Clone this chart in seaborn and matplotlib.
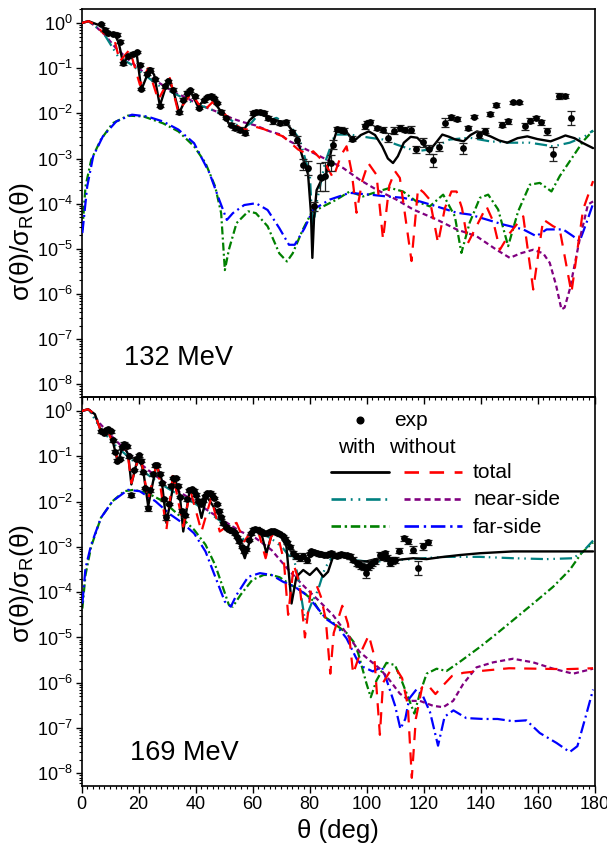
import numpy as np
import matplotlib
matplotlib.use("Agg")
import matplotlib.pyplot as plt
import seaborn as sns
from matplotlib.ticker import LogLocator, LogFormatterSciNotation, MultipleLocator, NullFormatter

# ---------------- data: 132 MeV (log10 of sigma/sigma_R) ----------------
a_tw_th = [0, 2.5, 5, 7.5, 9.5, 11.5, 13, 14.6, 17, 19.3, 21, 24, 25.5, 27.5, 30.4, 32, 34.3, 38, 40.9, 44.4,
           46.5, 48.5, 52, 56.7, 59, 62, 67.2, 71.9, 75.4, 77.8, 79.5, 80.5, 81.0, 81.6, 82.5, 84, 85.5, 87, 88.5, 89.7,
           91.5, 93.5, 95.5, 98, 100.8, 103, 105.5, 107.5, 109.3, 111, 113.1, 115.5, 117.8, 120, 121.9, 124, 126.6, 129,
           131.2, 134.1, 136.5, 138.8, 141, 143.5, 146.5, 149.4, 153, 156.4, 160, 164.6, 167.5, 169.8, 173, 176, 179.5]
a_tw_lg = [0, 0.04, -0.02, -0.08, -0.24, -0.24, -0.42, -0.89, -0.70, -0.65, -1.48, -1.00, -1.15, -1.83, -1.25, -1.45,
           -1.99, -1.48, -1.85, -1.62, -1.75, -1.92, -2.25, -2.40, -2.15, -1.99, -2.14, -2.21, -2.51, -3.02, -3.35, -4.2,
           -5.2, -4.3, -3.7, -3.5, -3.45, -3.0, -2.6, -2.36, -2.35, -2.45, -2.62, -2.48, -2.40, -2.48, -2.73, -3.0, -3.10,
           -2.95, -2.65, -2.52, -2.54, -2.68, -2.84, -2.68, -2.47, -2.52, -2.58, -2.62, -2.48, -2.40, -2.45, -2.51, -2.60,
           -2.65, -2.55, -2.51, -2.57, -2.62, -2.55, -2.49, -2.55, -2.66, -2.77]

a_tn_th = [0, 2.5, 5, 7.6, 10, 11.5, 13.4, 16.9, 20.5, 23.4, 26.9, 31.0, 33.9, 38.6, 42.7, 46, 50, 54, 56.5, 58.5,
           61.2, 64, 66.1, 70.7, 76, 79.5, 81.3, 85.4, 88.3, 91.2, 93, 94.8, 96.5, 98.5, 100.6, 103.5, 105.8, 108, 110,
           111.7, 115.8, 118.1, 120, 122.2, 125.1, 127.5, 129.8, 131.6, 133.5, 135.6, 139.8, 142.1, 144.5, 146.8, 150.3,
           155, 158.5, 162, 165.5, 167.8, 171.9, 176, 179.5]
a_tn_lg = [0, 0.04, -0.05, -0.22, -0.30, -0.35, -0.85, -0.59, -1.37, -1.00, -1.70, -1.22, -1.96, -1.55, -1.96, -1.75,
           -2.0, -2.25, -2.35, -2.36, -2.30, -2.35, -2.40, -2.51, -2.80, -2.91, -2.84, -3.10, -3.43, -2.91, -2.73, -3.3,
           -4.20, -3.5, -3.10, -3.36, -4.79, -3.6, -3.28, -3.43, -5.27, -3.65, -3.75, -3.91, -4.87, -4.1, -3.73, -3.73,
           -4.1, -4.87, -4.35, -4.06, -4.4, -5.02, -4.65, -4.28, -5.9, -4.35, -4.5, -4.57, -5.97, -4.13, -3.5]

a_nw_th = [0, 2.5, 5, 8, 12.9, 17, 22.8, 27, 32.2, 39.2, 45, 50.9, 53.5, 56.1, 59.6, 62.6, 66.1, 68.4, 73.1, 76.6,
           78.9, 80.1, 81.1, 82.5, 85.4, 88.9, 94.1, 101.2, 105.8, 110.5, 117.5, 122.2, 129.2, 136.2, 143.3, 150.3,
           157.3, 165.5, 171.3, 176.6, 179.5]
a_nw_lg = [0, 0.04, -0.08, -0.25, -0.75, -0.9, -1.18, -1.38, -1.55, -1.77, -1.9, -2.07, -2.2, -2.35, -2.21, -1.99,
           -2.15, -2.10, -2.27, -2.58, -3.10, -3.32, -4.57, -3.98, -3.10, -2.47, -2.47, -2.54, -2.58, -2.69, -2.84,
           -2.80, -2.58, -2.54, -2.62, -2.65, -2.65, -2.73, -2.65, -2.51, -2.38]

a_nn_th = [0, 2.5, 5, 8, 12, 16.3, 19, 23, 28.6, 33, 36.7, 40, 44.9, 49, 53.1, 57, 61.2, 66.1, 69.4, 73.1, 78.9,
           85.9, 91.8, 97.6, 103.5, 110.5, 116.4, 124.6, 131.6, 138.6, 145.6, 150.3, 154, 158.5, 162, 164.3, 166.5,
           168.4, 169.5, 171.3, 174.8, 177.7, 179.5]
a_nn_lg = [0, 0.04, -0.08, -0.25, -0.55, -0.80, -0.95, -1.15, -1.38, -1.55, -1.65, -1.77, -1.9, -2.0, -2.12, -2.2,
           -2.27, -2.40, -2.46, -2.62, -2.80, -3.02, -3.21, -3.47, -3.69, -3.91, -4.13, -4.35, -4.57, -4.72, -5.02,
           -5.2, -5.1, -5.02, -5.1, -5.31, -5.8, -6.34, -6.3, -5.9, -4.79, -4.02, -3.95]

a_fw_th = [0.3, 1.4, 3.4, 6.8, 10.9, 16.3, 21.8, 28.6, 34, 39.5, 43.5, 46.9, 49, 50.3, 51.7, 54.4, 58.5, 61.2, 65.3,
           69.4, 72.1, 74.1, 77.6, 80.7, 84.8, 89.5, 94.1, 98.8, 103, 108.2, 112.8, 117.5, 122.2, 126.9, 131, 133.3,
           136.2, 139.8, 142.7, 146.2, 149.7, 153.2, 157.3, 160.8, 164.9, 167.8, 172.5, 176, 179.5]
a_fw_lg = [-4.58, -3.62, -3.03, -2.58, -2.22, -2.05, -2.07, -2.22, -2.40, -2.73, -3.1, -3.62, -4.21, -5.47, -5.02,
           -4.43, -4.17, -4.21, -4.5, -5.1, -5.28, -5.1, -4.58, -4.20, -4.06, -3.91, -3.73, -3.84, -3.75, -3.65, -3.73,
           -3.95, -4.06, -3.80, -4.28, -5.09, -4.42, -3.87, -3.80, -4.13, -4.94, -4.17, -3.58, -3.54, -3.73, -3.39,
           -2.95, -2.62, -2.38]

a_fn_th = [0.3, 2, 4.1, 7.5, 12.2, 17.7, 23.1, 28.6, 34, 39.5, 44.9, 48.3, 51, 53.1, 57.1, 61.2, 65.3, 69.4, 72.8,
           74.8, 78.2, 81.3, 87.1, 94.1, 101.2, 107.1, 112.8, 118.7, 124.6, 131.6, 136.2, 142.1, 147.9, 155, 159.6,
           163.2, 169, 172.5, 174.8, 177.2, 179.5]
a_fn_lg = [-4.65, -3.62, -2.95, -2.51, -2.18, -2.03, -2.07, -2.18, -2.36, -2.66, -3.32, -3.91, -4.36, -4.21, -4.03,
           -3.99, -4.14, -4.54, -4.91, -4.91, -4.55, -4.13, -3.91, -3.76, -3.80, -3.84, -3.87, -3.95, -4.06, -4.20,
           -4.24, -4.35, -4.46, -4.57, -4.72, -4.57, -4.57, -4.72, -4.83, -4.42, -4.0]

a_exp_th = [7.0, 8.2, 9.3, 10.9, 12.3, 13.4, 14.6, 16.4, 18.1, 19.5,
            20.5, 21.0, 23.0, 24.2, 25.7, 27.5, 29.2, 30.4, 32.1, 34.1,
            35.7, 37.1, 38.2, 39.8, 41.3, 42.9, 44.1, 45.3, 46.4, 47.6,
            49.1, 50.6, 52.3, 53.8, 55.5, 57.3, 60.2, 61.4, 62.6, 64.0,
            65.5, 67.2, 69.6, 71.9, 74.0, 75.6, 77.8, 79.5, 81.6, 83.6,
            85.4, 87.5, 88.3, 89.5, 91.0, 92.0, 95.0, 99.4, 100.2, 101.2,
            103.7, 105.8, 107.6, 109.6, 111.7, 113.4, 115.5, 117.5, 119.9, 122.0,
            123.4, 125.5, 127.5, 129.6, 131.6, 133.7, 135.6, 137.6, 139.5, 141.5,
            143.5, 145.6, 147.6, 149.5, 151.4, 153.5, 155.5, 157.5, 159.4, 161.4,
            163.4, 165.5, 167.5, 169.6, 171.6]
a_exp_lg = [-0.02, -0.15, -0.22, -0.24, -0.26, -0.41, -0.89, -0.74, -0.68, -0.64,
            -0.92, -1.46, -1.12, -1.03, -1.25, -1.83, -1.40, -1.29, -1.48, -1.98,
            -1.70, -1.54, -1.49, -1.62, -1.88, -1.71, -1.64, -1.61, -1.66, -1.77,
            -1.96, -2.10, -2.25, -2.32, -2.36, -2.43, -1.99, -1.96, -1.96, -1.99,
            -2.10, -2.18, -2.21, -2.20, -2.42, -2.58, -3.14, -3.21, -4.06, -3.41,
            -3.39, -3.10, -2.69, -2.35, -2.36, -2.38, -2.56, -2.29, -2.21, -2.20,
            -2.32, -2.36, -2.54, -2.38, -2.32, -2.36, -2.36, -2.80, -2.64, -2.80,
            -3.04, -2.74, -2.21, -2.09, -2.12, -2.77, -2.32, -2.07, -2.47, -2.38,
            -2.01, -1.82, -2.25, -2.18, -1.76, -1.76, -2.29, -2.16, -2.10, -2.20,
            -2.40, -2.90, -1.62, -1.62, -2.10]
a_exp_err = [0.03, 0.03, 0.03, 0.03, 0.03, 0.03, 0.03, 0.03, 0.03, 0.03,
             0.03, 0.03, 0.03, 0.03, 0.03, 0.03, 0.03, 0.03, 0.03, 0.03,
             0.03, 0.03, 0.03, 0.03, 0.03, 0.03, 0.03, 0.03, 0.03, 0.03,
             0.03, 0.03, 0.03, 0.04, 0.05, 0.06, 0.04, 0.04, 0.04, 0.04,
             0.05, 0.05, 0.05, 0.05, 0.06, 0.08, 0.12, 0.15, 0.10, 0.30,
             0.32, 0.18, 0.10, 0.05, 0.05, 0.05, 0.06, 0.05, 0.05, 0.05,
             0.05, 0.06, 0.10, 0.07, 0.07, 0.06, 0.07, 0.08, 0.10, 0.10,
             0.14, 0.10, 0.10, 0.05, 0.04, 0.12, 0.05, 0.04, 0.08, 0.05,
             0.04, 0.04, 0.06, 0.05, 0.03, 0.03, 0.07, 0.05, 0.05, 0.05,
             0.08, 0.15, 0.07, 0.04, 0.15]

# ---------------- data: 169 MeV ----------------
b_tw_th = [0, 2.3, 4.7, 7.0, 9.3, 11.1, 12.8, 14.6, 16.4, 17.5, 19.9, 21.6, 23.4, 26.3, 28.1, 29.8, 32.7, 34.5, 35.7,
           38.0, 40.4, 42.1, 43.9, 46.2, 49.7, 52.0, 54.4, 57.3, 60.2, 62.6, 64.9, 67.2, 69.6, 71.9, 73.7, 75.4, 77.8,
           80.1, 82.5, 84.8, 86.5, 88.3, 90.6, 93.0, 96.5, 100.0, 104.7, 110.5, 116.4, 121.1, 125.7, 132.7, 139.8,
           151.4, 163.2, 179.5]
b_tw_lg = [0, 0.04, -0.07, -0.48, -0.44, -0.70, -1.14, -0.74, -0.96, -1.62, -1.00, -1.29, -2.10, -1.18, -1.51, -2.47,
           -1.48, -1.85, -2.66, -1.73, -1.88, -2.36, -1.88, -2.10, -2.44, -2.58, -2.73, -3.25, -2.62, -2.58, -3.14,
           -2.62, -2.73, -2.99, -4.25, -3.66, -3.51, -3.62, -3.47, -3.66, -3.55, -3.21, -3.14, -3.25, -3.32, -3.32,
           -3.25, -3.29, -3.25, -3.27, -3.23, -3.18, -3.14, -3.10, -3.10, -3.10]

b_tn_th = [0, 2.3, 4.7, 7.0, 9.3, 11.1, 12.8, 15.8, 17.5, 20.5, 23.4, 26.5, 29.8, 32.1, 35.7, 38.2, 42.1, 45.5, 48.5,
           51.0, 54.4, 57.1, 59.9, 62.0, 64.6, 66.7, 69.4, 71.0, 72.5, 74.5, 76.5, 78.4, 80.5, 82.5, 84.0, 85.7, 87.3,
           88.5, 91.5, 93.5, 95.3, 97.5, 100.8, 102.7, 104.7, 105.8, 108.5, 110.5, 112.5, 114.5, 115.9, 117.3, 119.5,
           121.5, 124.2, 127.0, 130.0, 134.0, 140.0, 150.0, 160.0, 170.0, 179.5]
b_tn_lg = [0, 0.04, -0.07, -0.48, -0.45, -0.72, -1.10, -0.74, -1.59, -0.92, -1.95, -1.12, -2.62, -1.40, -2.55, -1.75,
           -2.66, -1.92, -2.66, -2.55, -2.47, -2.88, -2.62, -2.65, -3.25, -2.73, -2.88, -3.3, -4.5, -3.4, -3.8, -5.0,
           -3.95, -3.85, -4.1, -4.6, -5.8, -4.9, -4.3, -4.7, -5.8, -5.4, -4.95, -5.4, -7.15, -6.0, -5.72, -5.7, -5.9,
           -6.5, -8.1, -6.8, -6.1, -6.05, -6.25, -6.05, -5.85, -5.78, -5.74, -5.68, -5.69, -5.70, -5.68]

b_nw_th = [0, 2.5, 6.8, 12.2, 17.7, 23.1, 28.6, 34, 39.5, 44.9, 49.7, 53.1, 55.8, 59.9, 62.6, 65.3, 68, 70.7, 72.8,
           74.2, 76, 78.4, 80.7, 83, 85.4, 87.7, 90.6, 95.3, 100, 104.7, 110.5, 116.4, 122.2, 128.1, 139.8, 151.4,
           163.2, 172.5, 176, 179.5]
b_nw_lg = [0, 0.04, -0.40, -0.78, -1.08, -1.40, -1.64, -1.85, -2.03, -2.25, -2.47, -2.73, -2.88, -2.66, -2.73, -2.77,
           -2.88, -3.03, -3.2, -3.18, -3.66, -4.62, -4.25, -3.95, -3.47, -3.25, -3.18, -3.29, -3.32, -3.32, -3.29,
           -3.27, -3.24, -3.22, -3.22, -3.25, -3.27, -3.25, -3.10, -2.86]

b_nn_th = [0, 2.7, 6.8, 12.2, 17.7, 23.1, 28.6, 34, 39.5, 44.9, 50.3, 55.8, 61.2, 66.7, 72.1, 77.6, 83.3, 88.3, 93,
           97.6, 101.2, 104.7, 108.2, 111.7, 115.2, 118.7, 123.4, 126.9, 130.4, 133.9, 138.6, 144.4, 151.4, 158.5,
           165.5, 172.5, 179.5]
b_nn_lg = [0, 0.04, -0.30, -0.66, -1.0, -1.29, -1.55, -1.77, -1.99, -2.22, -2.44, -2.66, -2.81, -3.07, -3.47, -3.84,
           -4.19, -4.51, -4.91, -5.32, -5.51, -5.69, -5.95, -6.24, -6.40, -6.40, -6.51, -6.54, -6.40, -6.03, -5.66,
           -5.55, -5.47, -5.55, -5.69, -5.80, -5.69]

b_fw_th = [0.3, 1.4, 3.4, 6.8, 10.9, 15, 18.4, 23.1, 28.6, 34, 39.5, 43.5, 46.9, 49.7, 51.7, 53.1, 55.8, 59.9, 63.9,
           66.7, 69.5, 73.5, 77.6, 81.3, 84.4, 87.1, 93, 95.5, 97.1, 100, 101.5, 103.5, 107, 110, 112.3, 114.6, 116.8,
           118.7, 121.1, 124.6, 128.1, 132.7, 139.8, 145.6, 151.4, 158.5, 165.5, 171.3, 175.4, 179.5]
b_fw_lg = [-4.36, -3.62, -2.99, -2.36, -1.99, -1.77, -1.74, -1.81, -1.99, -2.29, -2.62, -2.95, -3.40, -3.91, -4.28,
           -4.32, -4.06, -3.73, -3.62, -3.62, -3.67, -3.84, -3.99, -4.19, -4.51, -4.62, -4.90, -5.1, -5.35, -6.02,
           -6.32, -5.95, -5.56, -5.61, -5.95, -6.32, -6.68, -6.24, -5.80, -5.69, -5.74, -5.54, -5.21, -4.92, -4.62,
           -4.25, -3.88, -3.51, -3.14, -2.9]

b_fn_th = [0.3, 1.4, 3.4, 6.8, 10.9, 16.3, 20.4, 25.9, 31.3, 35.4, 39.5, 43.5, 47.6, 50.3, 52.4, 54.4, 58.5, 62.6,
           66.7, 70.7, 74.8, 78.9, 81.5, 86, 89.8, 93, 96.5, 98.8, 102.2, 105.4, 107, 110, 111.9, 113.6, 115, 117.5,
           119.7, 122.3, 125.1, 127.4, 130.5, 135, 140.9, 146, 151.4, 156.1, 160.8, 166.7, 171.3, 174, 177.2, 179.5]
b_fn_lg = [-4.25, -3.47, -2.95, -2.36, -1.99, -1.74, -1.77, -1.99, -2.29, -2.47, -2.70, -3.10, -3.77, -4.21, -4.32,
           -4.06, -3.66, -3.58, -3.62, -3.77, -3.88, -4.06, -4.25, -4.60, -4.76, -5.02, -5.47, -5.65, -5.75, -5.65,
           -5.93, -6.5, -7.02, -6.8, -6.35, -6.15, -6.28, -6.65, -7.39, -6.75, -6.61, -6.78, -6.80, -6.80, -6.85,
           -6.83, -7.11, -7.33, -7.53, -7.40, -6.68, -6.15]

b_exp_th = [7.0, 7.8, 8.6, 9.4, 10.2, 11.0, 11.8, 12.6, 13.4, 14.2,
            15.0, 15.8, 16.6, 17.5, 18.4, 19.2, 20.0, 20.8, 21.6, 22.4,
            23.4, 24.2, 25.0, 25.8, 26.6, 27.4, 28.2, 29.0, 29.8, 30.6,
            31.4, 32.2, 33.0, 33.8, 34.6, 35.4, 36.2, 37.0, 37.8, 38.6,
            39.4, 40.2, 41.0, 41.8, 42.6, 43.4, 44.2, 45.0, 45.8, 46.6,
            47.4, 48.2, 49.0, 49.8, 50.6, 51.4, 52.2, 53.0, 53.8, 54.6,
            55.4, 56.2, 57.0, 57.8, 58.6, 59.4, 60.2, 61.0, 61.8, 62.6,
            63.4, 64.2, 65.0, 65.8, 66.6, 67.4, 68.2, 69.0, 69.8, 70.6,
            71.4, 72.2, 73.0, 74.2, 75.4, 76.6, 77.8, 79.0, 80.0, 80.7,
            81.6, 82.5, 83.4, 84.2, 85.1, 86.0, 86.9, 87.7, 88.6, 89.5,
            90.4, 91.2, 92.1, 93.0, 94.1, 95.3, 96.5, 97.4, 98.2, 99.0,
            99.8, 100.5, 101.2, 102.1, 103.0, 104.7, 105.5, 106.4, 107.3, 108.2,
            109.1, 110.0, 111.5, 113.1, 114.6, 116.4, 118.1, 119.9, 121.6]
b_exp_lg = [-0.45, -0.48, -0.42, -0.40, -0.45, -0.65, -0.90, -1.10, -1.05, -0.80,
            -0.72, -0.78, -1.00, -1.85, -1.30, -1.05, -0.98, -1.10, -1.35, -1.70,
            -2.15, -1.75, -1.40, -1.20, -1.20, -1.38, -1.60, -1.95, -2.35, -2.05,
            -1.65, -1.48, -1.48, -1.65, -1.90, -2.20, -2.30, -1.95, -1.75, -1.72,
            -1.76, -1.85, -1.98, -2.05, -1.98, -1.88, -1.82, -1.80, -1.85, -1.92,
            -2.05, -2.20, -2.35, -2.48, -2.55, -2.60, -2.62, -2.66, -2.70, -2.78,
            -2.88, -3.00, -3.10, -3.05, -2.85, -2.70, -2.62, -2.60, -2.62, -2.64,
            -2.68, -2.70, -2.70, -2.68, -2.66, -2.66, -2.68, -2.70, -2.72, -2.76,
            -2.82, -2.90, -3.00, -3.14, -3.20, -3.25, -3.20, -3.29, -3.15, -3.10,
            -3.12, -3.14, -3.16, -3.15, -3.17, -3.18, -3.16, -3.14, -3.18, -3.20,
            -3.18, -3.16, -3.17, -3.19, -3.21, -3.28, -3.36, -3.38, -3.42, -3.45,
            -3.58, -3.44, -3.40, -3.36, -3.32, -3.18, -3.22, -3.14, -3.25, -3.36,
            -3.30, -3.29, -3.08, -2.81, -2.88, -3.06, -3.47, -2.99, -2.90]
b_exp_err = [0.03, 0.03, 0.03, 0.03, 0.03, 0.03, 0.03, 0.03, 0.03, 0.03,
             0.03, 0.03, 0.03, 0.05, 0.03, 0.03, 0.03, 0.03, 0.03, 0.03,
             0.06, 0.03, 0.03, 0.03, 0.03, 0.03, 0.03, 0.03, 0.05, 0.03,
             0.03, 0.03, 0.03, 0.03, 0.03, 0.03, 0.03, 0.03, 0.03, 0.03,
             0.03, 0.03, 0.03, 0.03, 0.03, 0.03, 0.03, 0.03, 0.03, 0.03,
             0.03, 0.03, 0.03, 0.03, 0.03, 0.03, 0.03, 0.03, 0.03, 0.03,
             0.03, 0.03, 0.03, 0.03, 0.03, 0.03, 0.03, 0.03, 0.03, 0.03,
             0.03, 0.03, 0.03, 0.03, 0.03, 0.03, 0.03, 0.03, 0.03, 0.03,
             0.03, 0.03, 0.04, 0.06, 0.06, 0.06, 0.06, 0.06, 0.04, 0.04,
             0.04, 0.04, 0.04, 0.04, 0.04, 0.04, 0.04, 0.04, 0.04, 0.04,
             0.04, 0.04, 0.04, 0.04, 0.05, 0.06, 0.06, 0.06, 0.07, 0.07,
             0.10, 0.07, 0.06, 0.06, 0.06, 0.06, 0.06, 0.06, 0.07, 0.07,
             0.07, 0.07, 0.06, 0.05, 0.06, 0.07, 0.15, 0.08, 0.06]

energy_labels = ["132 MeV", "169 MeV"]
legend_labels = ["total", "near-side", "far-side"]

# ---------------- style ----------------
sns.set_theme(style="ticks")
plt.rcParams['font.family'] = ['Liberation Sans', 'DejaVu Sans']
plt.rcParams['mathtext.fontset'] = 'custom'
plt.rcParams['mathtext.rm'] = 'Liberation Sans'
plt.rcParams['mathtext.it'] = 'Liberation Sans:italic'
plt.rcParams['mathtext.bf'] = 'Liberation Sans:bold'
plt.rcParams['mathtext.default'] = 'regular'
for k in ('text.color', 'axes.labelcolor', 'xtick.color', 'ytick.color', 'axes.edgecolor'):
    plt.rcParams[k] = 'black'

LW = 1.6
ST = {
    'tw': dict(color='black', ls='-', lw=1.7, z=6),
    'tn': dict(color='#ff0000', ls=(0, (5.5, 4.0)), lw=LW, z=7),
    'nw': dict(color='#008080', ls=(0, (5.5, 1.8, 0.7, 2.2, 0.7, 2.2)), lw=LW, z=5),
    'nn': dict(color='#800080', ls=(0, (2.3, 1.5)), lw=LW, z=4),
    'fw': dict(color='#008000', ls=(0, (3.6, 1.4, 0.9, 1.4)), lw=LW, z=2),
    'fn': dict(color='#0000ff', ls=(0, (5.5, 1.8, 0.9, 1.8)), lw=LW, z=3),
}

YMIN, YMAX = 10 ** -8.28, 10 ** 0.31

fig = plt.figure(figsize=(6.07, 8.5), dpi=100)
L, W = 81.5 / 607, 513 / 607
ax2 = fig.add_axes([L, 1 - 786 / 850, W, 389 / 850])
ax1 = fig.add_axes([L, 1 - 397 / 850, W, 388 / 850])
ax2.set_facecolor('none')
ax1.set_facecolor('none')


def curve(ax, th, lg, key):
    s = ST[key]
    sns.lineplot(x=np.array(th, float), y=10 ** np.array(lg, float), ax=ax, color=s['color'],
                 linestyle=s['ls'], lw=s['lw'], estimator=None, sort=False, zorder=s['z'])


def exp(ax, th, lg, err):
    th = np.array(th, float)
    y = 10 ** np.array(lg, float)
    e = np.array(err, float)
    lo = y * (1 - 10 ** -e)
    hi = y * (10 ** e - 1)
    ax.errorbar(th, y, yerr=[lo, hi], fmt='none', ecolor='#222222', elinewidth=0.9,
                capsize=2.6, capthick=0.9, zorder=8)
    sns.scatterplot(x=th, y=y, ax=ax, color='black', s=24, linewidth=0, zorder=9)


for ax in (ax1, ax2):
    ax.set_yscale('log')
    ax.set_xlim(0, 180)
    ax.set_ylim(YMIN, YMAX)

curve(ax1, a_fw_th, a_fw_lg, 'fw')
curve(ax1, a_fn_th, a_fn_lg, 'fn')
curve(ax1, a_nn_th, a_nn_lg, 'nn')
curve(ax1, a_nw_th, a_nw_lg, 'nw')
curve(ax1, a_tw_th, a_tw_lg, 'tw')
curve(ax1, a_tn_th, a_tn_lg, 'tn')
exp(ax1, a_exp_th, a_exp_lg, a_exp_err)

curve(ax2, b_fw_th, b_fw_lg, 'fw')
curve(ax2, b_fn_th, b_fn_lg, 'fn')
curve(ax2, b_nn_th, b_nn_lg, 'nn')
curve(ax2, b_nw_th, b_nw_lg, 'nw')
curve(ax2, b_tw_th, b_tw_lg, 'tw')
curve(ax2, b_tn_th, b_tn_lg, 'tn')
exp(ax2, b_exp_th, b_exp_lg, b_exp_err)

ylab = 'σ(θ)/σ$_\\mathregular{R}$(θ)'
for ax, ly in ((ax1, 0.40), (ax2, 0.52)):
    ax.set_xlim(0, 180)
    ax.set_ylim(YMIN, YMAX)
    ax.yaxis.set_major_locator(LogLocator(base=10, numticks=30))
    ax.yaxis.set_minor_locator(LogLocator(base=10, subs=np.arange(2, 10), numticks=30))
    ax.yaxis.set_major_formatter(LogFormatterSciNotation())
    ax.yaxis.set_minor_formatter(NullFormatter())
    ax.xaxis.set_major_locator(MultipleLocator(20))
    ax.xaxis.set_minor_locator(MultipleLocator(2))
    ax.tick_params(axis='y', which='major', direction='out', length=4, width=1.0,
                   labelsize=13, pad=2, left=True, right=False)
    ax.tick_params(axis='y', which='minor', direction='out', length=2.2, width=0.8, left=True, right=False)
    for sp in ax.spines.values():
        sp.set_linewidth(1.2)
        sp.set_color('black')
    ax.set_ylabel(ylab, fontsize=19)
    ax.yaxis.set_label_coords(-0.088, ly)
    ax.grid(False)

# ticks on the shared boundary point down; ticks on the bottom axis point outward
ax1.tick_params(axis='x', which='major', direction='out', length=5, width=1.0, bottom=True, top=False,
                labelbottom=False)
ax1.tick_params(axis='x', which='minor', direction='out', length=2.5, width=0.8, bottom=True, top=False)
ax2.tick_params(axis='x', which='major', direction='out', length=5, width=1.0, top=False, bottom=True,
                labelsize=13, pad=2)
ax2.tick_params(axis='x', which='minor', direction='out', length=2.5, width=0.8, top=False, bottom=True)
ax2.set_xlabel('θ (deg)', fontsize=18.5)
ax2.xaxis.set_label_coords(0.5, -0.085)

ax1.text(0.0825, 0.0825, energy_labels[0], transform=ax1.transAxes, fontsize=19.5, va='baseline', ha='left')
ax2.text(0.094, 0.0668, energy_labels[1], transform=ax2.transAxes, fontsize=19.5, va='baseline', ha='left')

# ---------------- legend (bottom panel) ----------------
T = ax2.transAxes
FS = 15
ax2.plot([0.5425], [0.941], 'o', color='black', ms=4.8, transform=T, clip_on=False, zorder=10)
ax2.text(0.609, 0.925, 'exp', transform=T, fontsize=FS, va='baseline', ha='left')
ax2.text(0.536, 0.856, 'with', transform=T, fontsize=FS, va='baseline', ha='center')
ax2.text(0.664, 0.856, 'without', transform=T, fontsize=FS, va='baseline', ha='center')
rows_y = [0.8077, 0.7378, 0.668]
text_y = [0.791, 0.722, 0.651]
pairs = [('tw', 'tn'), ('nw', 'nn'), ('fw', 'fn')]
for (kw, kn), yl, yt, lab in zip(pairs, rows_y, text_y, legend_labels):
    for k, (x0, x1) in ((kw, (0.4854, 0.599)), (kn, (0.629, 0.742))):
        s = ST[k]
        ax2.plot([x0, x1], [yl, yl], color=s['color'], linestyle=s['ls'], lw=s['lw'] + 0.3,
                 transform=T, zorder=10)
    ax2.text(0.7634, yt, lab, transform=T, fontsize=FS, va='baseline', ha='left')

fig.savefig('out.png', dpi=100)
